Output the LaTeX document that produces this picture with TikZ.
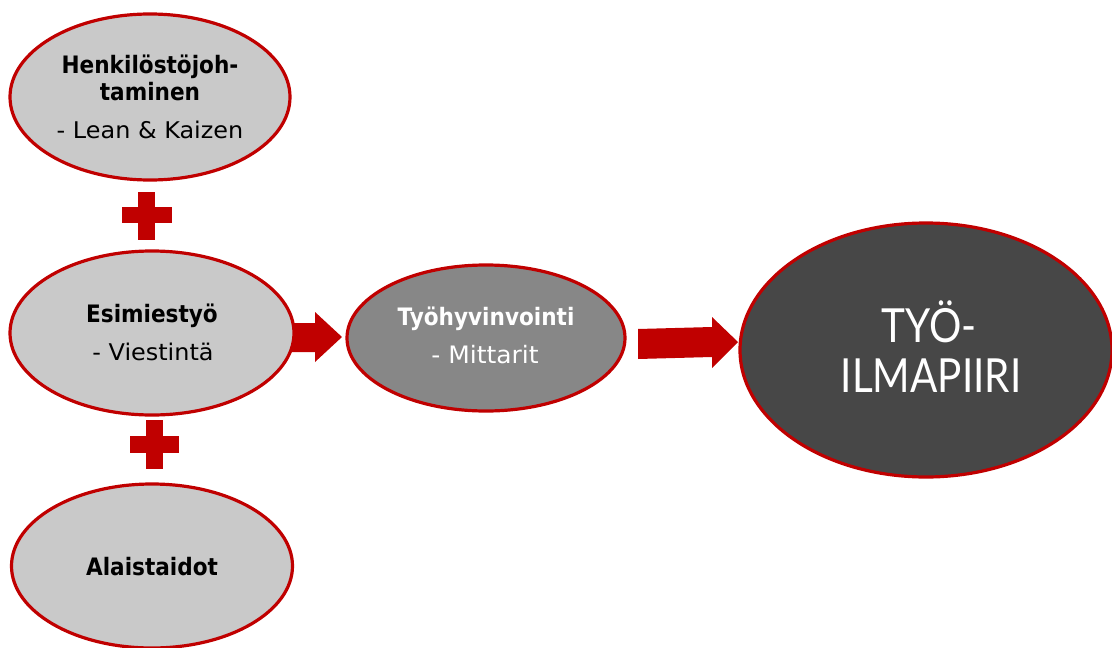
\documentclass[tikz,border=0pt]{standalone}
\usepackage{fontspec}
\setmainfont[FakeStretch=1.04, BoldFeatures={FakeStretch=0.9}]{DejaVu Sans}
\newfontfamily\titlefont[FakeStretch=0.86]{Lato}
\usetikzlibrary{shapes.geometric}
\definecolor{brandred}{HTML}{C00000}
\definecolor{lightfill}{HTML}{C9C9C9}
\definecolor{midfill}{HTML}{878787}
\definecolor{darkfill}{HTML}{474747}
\tikzset{
  bubble/.style={ellipse, draw=brandred, line width=3.2pt, inner sep=0pt},
  lightbubble/.style={bubble, fill=lightfill},
  boldlabel/.style={anchor=base, font=\bfseries\fontsize{24}{28}\selectfont, inner sep=0pt},
  sublabel/.style={anchor=base, font=\fontsize{23}{26}\selectfont, inner sep=0pt},
  blockarrow/.style={fill=brandred, draw=none},
  plussign/.style={fill=brandred, draw=none},
}
\begin{document}
\begin{tikzpicture}[x=1pt, y=-1pt]
\useasboundingbox (0,0) rectangle (1112,648);

% block arrows (drawn first, so the bubbles overlap their tails)
\fill[blockarrow] (285,323) -- (315,323) -- (315,312) -- (342,337)
  -- (315,362) -- (315,352) -- (285,352) -- cycle;
\fill[blockarrow] (638,329) -- (712,327) -- (712,317) -- (738,342)
  -- (712,368) -- (712,357) -- (638,359) -- cycle;

% bubbles
\node[lightbubble, minimum width=280pt, minimum height=166pt] (hr) at (150,97) {};
\node[lightbubble, minimum width=284pt, minimum height=164pt] (lead) at (152,333) {};
\node[lightbubble, minimum width=281pt, minimum height=164pt] (sub) at (152,566) {};
\node[bubble, fill=midfill, minimum width=278pt, minimum height=146pt] (well) at (486,338) {};
\node[bubble, fill=darkfill, minimum width=372pt, minimum height=254pt] (climate) at (926,350) {};

% plus signs between the left bubbles
\fill[plussign] (138,192) rectangle (155,240);
\fill[plussign] (122,207) rectangle (172,223);
\fill[plussign] (146,420) rectangle (163,469);
\fill[plussign] (130,436) rectangle (179,453);

% labels
\node[boldlabel] (hrA) at (150,73) {Henkilöstöjoh-};
\node[boldlabel] (hrB) at (150,100) {taminen};
\node[sublabel]  (hrC) at (150,138) {- Lean \& Kaizen};

\node[boldlabel] (leadA) at (152,322) {Esimiestyö};
\node[sublabel]  (leadB) at (153,360) {- Viestintä};

\node[boldlabel] (subA) at (152,575) {Alaistaidot};

\node[boldlabel, text=white] (wellA) at (486,325) {Työhyvinvointi};
\node[sublabel, text=white, font=\fontsize{24}{26}\selectfont] (wellB) at (485,363) {- Mittarit};

\node[anchor=base, inner sep=0pt, text=white, font=\titlefont\fontsize{47}{50}\selectfont] (climA) at (929,342) {TYÖ-};
\node[anchor=base, inner sep=0pt, text=white, font=\titlefont\fontsize{47}{50}\selectfont] (climB) at (931,392) {ILMAPIIRI};
\end{tikzpicture}
\end{document}
